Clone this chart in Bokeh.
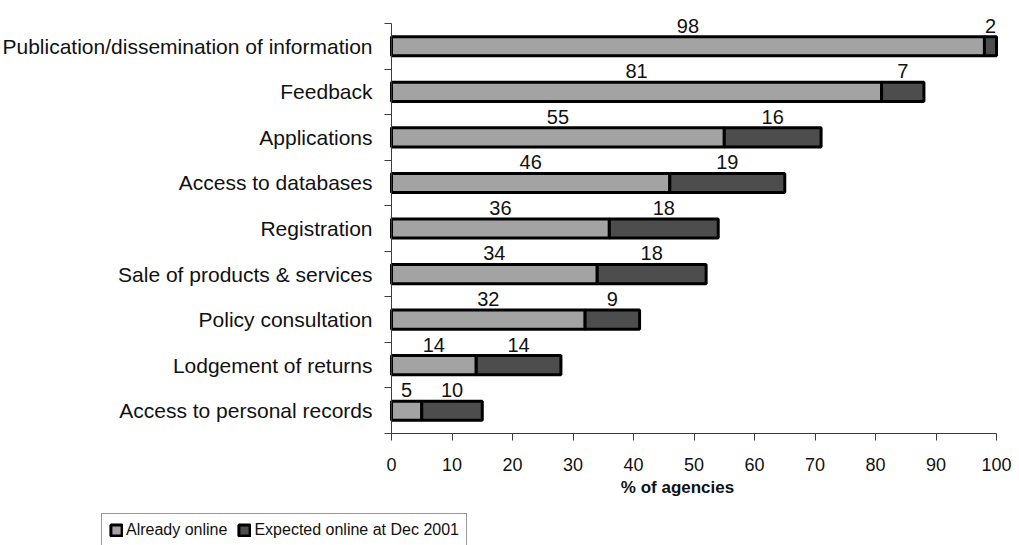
from bokeh.plotting import figure
from bokeh.models import (ColumnDataSource, FixedTicker, Range1d, Legend,
                          LegendItem, Label)
from bokeh.core.properties import value
from bokeh.embed import file_html
from bokeh.resources import INLINE

# Online services offered by agencies (% of agencies), top to bottom
categories = [
    "Publication/dissemination of information",
    "Feedback",
    "Applications",
    "Access to databases",
    "Registration",
    "Sale of products & services",
    "Policy consultation",
    "Lodgement of returns",
    "Access to personal records",
]
already_online = [98, 81, 55, 46, 36, 34, 32, 14, 5]
expected_dec_2001 = [2, 7, 16, 19, 18, 18, 9, 14, 10]
series_names = ["Already online", "Expected online at Dec 2001"]
x_ticks = [0, 10, 20, 30, 40, 50, 60, 70, 80, 90, 100]
x_title = "% of agencies"

FONT = "Liberation Sans"
LIGHT = "#a3a3a3"
DARK = "#4d4d4d"
AXIS = "#3c3c3c"
INK = "#111111"

n = len(categories)
centers = [n - i - 0.5 for i in range(n)]
totals = [a + b for a, b in zip(already_online, expected_dec_2001)]

src = ColumnDataSource(dict(
    y=centers,
    a=already_online,
    b=expected_dec_2001,
    total=totals,
    a_mid=[a / 2 for a in already_online],
    b_mid=[a + b / 2 for a, b in zip(already_online, expected_dec_2001)],
    a_txt=[str(v) for v in already_online],
    b_txt=[str(v) for v in expected_dec_2001],
    y_lab=[c + 0.21 for c in centers],
))

# The frame spans the whole page; the axes sit at x=0 / y=0 inside it so that
# category names, axis title and legend all share one drawing area.
p = figure(width=1019, height=545, output_backend="svg", toolbar_location=None,
           x_range=Range1d(-64.63, 102.97), y_range=Range1d(-2.458, n + 0.395),
           min_border_left=0, min_border_right=5, min_border_top=5,
           min_border_bottom=0)
p.outline_line_color = None
p.grid.visible = False

BAR_H = 0.42
r1 = p.hbar(y="y", left=0, right="a", height=BAR_H, source=src,
            fill_color=LIGHT, line_color="black", line_width=3)
r2 = p.hbar(y="y", left="a", right="total", height=BAR_H, source=src,
            fill_color=DARK, line_color="black", line_width=3)

for xcol, tcol in (("a_mid", "a_txt"), ("b_mid", "b_txt")):
    p.text(x=xcol, y="y_lab", text=tcol, source=src, text_align="center",
           text_baseline="bottom", y_offset=-4, text_font=value(FONT),
           text_font_size="20px", text_color=INK)

# x axis
xa = p.xaxis[0]
xa.fixed_location = 0
xa.ticker = FixedTicker(ticks=x_ticks, minor_ticks=[])
xa.bounds = (0, 100)
xa.axis_line_color = AXIS
xa.major_tick_line_color = AXIS
xa.major_tick_out = 7
xa.major_tick_in = 0
xa.major_label_standoff = 17
xa.major_label_text_font = FONT
xa.major_label_text_font_size = "18px"
xa.major_label_text_color = INK

# y axis: names at bar centres, tick marks between categories
ya = p.yaxis[0]
ya.fixed_location = 0
ya.ticker = FixedTicker(ticks=centers, minor_ticks=list(range(n + 1)))
ya.major_label_overrides = {c: name for c, name in zip(centers, categories)}
ya.bounds = (0, n)
ya.axis_line_color = AXIS
ya.major_tick_line_color = None
ya.major_tick_out = 0
ya.major_tick_in = 0
ya.minor_tick_line_color = AXIS
ya.minor_tick_out = 7
ya.minor_tick_in = 0
ya.major_label_standoff = 12
ya.major_label_text_font = FONT
ya.major_label_text_font_size = "21px"
ya.major_label_text_color = INK

p.add_layout(Label(x=37.9, y=-1.19, text=x_title, text_font=FONT,
                   text_font_size="17px", text_font_style="bold",
                   text_baseline="middle", text_color=INK))

legend = Legend(items=[LegendItem(label=series_names[0], renderers=[r1]),
                       LegendItem(label=series_names[1], renderers=[r2])],
                orientation="horizontal", location=(101, -2),
                label_text_font=FONT, label_text_font_size="16px",
                label_text_color=INK, glyph_width=14, glyph_height=14,
                label_standoff=3, spacing=10, padding=7, margin=0,
                border_line_color="#333333", border_line_width=1)
p.add_layout(legend)

open("out.html", "w").write(file_html(p, INLINE))
